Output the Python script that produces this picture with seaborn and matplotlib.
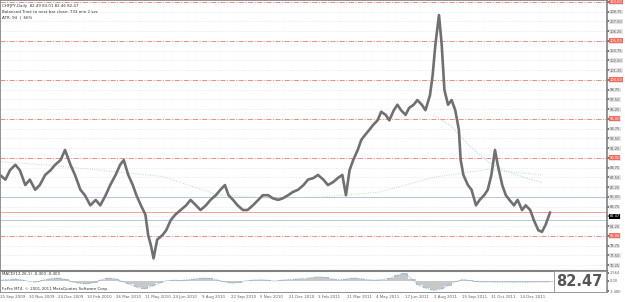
import numpy as np
import pandas as pd
import matplotlib
matplotlib.use("Agg")
import matplotlib.pyplot as plt
import seaborn as sns

sns.set_theme(style="white")
plt.rcParams['font.family'] = ['DejaVu Sans']

# ---------------- data ----------------
header_lines = ["CHFJPY,Daily  82.49 83.01 82.46 82.47",
                "Balanced Time to next bar close: 733 min 2 sec",
                "ATR: 94  |  66%"]
date_labels = ["25 Sep 2009", "10 Nov 2009", "24 Dec 2009", "10 Feb 2010", "26 Mar 2010",
               "11 May 2010", "24 Jun 2010", "9 Aug 2010", "22 Sep 2010", "5 Nov 2010",
               "21 Dec 2010", "3 Feb 2011", "21 Mar 2011", "4 May 2011", "17 Jun 2011",
               "2 Aug 2011", "15 Sep 2011", "31 Oct 2011", "14 Dec 2011"]
label_bars = [0, 32, 64, 96, 128, 160, 192, 224, 256, 288, 320, 352, 384, 416, 448,
              480, 512, 544, 576]

price_bars = [0, 6, 11, 17, 22, 28, 33, 39, 44, 50, 56, 61, 67, 72, 78, 83, 89, 94, 100, 106,
              111, 117, 122, 128, 133, 137, 142, 147, 151, 156, 161, 164, 167, 170, 174, 180,
              184, 189, 194, 200, 206, 211, 217, 222, 228, 233, 239, 244, 249, 253, 258, 263,
              269, 274, 280, 286, 291, 297, 302, 308, 313, 319, 324, 330, 336, 341, 347, 352,
              358, 363, 369, 374, 379, 383, 387, 391, 396, 400, 404, 409, 413, 418, 422, 427,
              431, 436, 440, 444, 449, 453, 458, 462, 467, 471, 476, 479, 482, 486, 489, 492,
              496, 500, 504, 508, 510, 513, 518, 522, 527, 531, 536, 540, 544, 548, 551, 556,
              560, 564, 569, 573, 578, 582, 587, 591, 596, 600, 604, 609]
price_close = [87.8, 87.2, 88.4, 89.1, 88.4, 86.5, 87.2, 85.9, 86.5, 87.8, 88.4, 89.1, 89.7,
               91.0, 89.1, 87.8, 85.9, 85.2, 83.9, 84.6, 83.9, 85.2, 86.5, 87.8, 89.1, 89.7,
               87.8, 86.5, 85.2, 83.9, 82.7, 80.1, 78.8, 77.1, 79.5, 80.1, 80.7, 82.0, 82.7,
               83.3, 83.9, 84.6, 83.9, 83.3, 83.9, 84.6, 85.2, 85.9, 86.5, 85.2, 84.6, 83.9,
               83.3, 83.3, 83.9, 84.6, 85.2, 85.2, 84.8, 84.6, 84.8, 85.2, 85.6, 85.9, 86.5,
               87.2, 87.4, 87.8, 87.2, 86.5, 86.9, 87.4, 87.8, 85.2, 88.4, 89.7, 91.0, 92.3,
               92.9, 93.6, 94.2, 94.8, 95.9, 95.5, 94.8, 96.1, 96.8, 96.1, 95.5, 96.4, 96.8,
               97.4, 96.8, 96.1, 98.0, 100.6, 104.5, 108.3, 104.5, 98.7, 96.8, 97.4, 96.1,
               93.6, 89.7, 87.8, 86.5, 85.9, 83.9, 84.6, 85.2, 85.9, 87.8, 91.0, 89.1, 86.5,
               85.2, 84.6, 83.9, 84.6, 83.3, 83.9, 83.3, 82.0, 80.7, 80.5, 81.4, 83.0]

ma_slow_bars = [0, 60, 120, 180, 240, 300, 360, 420, 480, 540, 600]
ma_slow_vals = [89.5, 89.0, 88.3, 87.6, 85.3, 84.8, 85.0, 85.6, 87.5, 88.5, 87.8]
ma_fast_bars = [480, 500, 520, 540, 560, 580, 600]
ma_fast_vals = [95.5, 94.0, 91.5, 89.5, 88.3, 87.5, 86.8]

red_levels = [110, 105, 100, 95, 90, 80]
pink_level = 83.0
blue_levels = [85.0, 82.0]

macd_bars = [0, 8, 16, 24, 32, 40, 48, 56, 64, 72, 80, 88, 96, 104, 112, 120, 128, 136, 144,
             152, 160, 168, 176, 184, 192, 200, 208, 216, 224, 232, 240, 248, 256, 264, 272,
             280, 288, 296, 304, 312, 320, 328, 336, 344, 352, 360, 368, 376, 384, 392, 400,
             408, 416, 424, 432, 440, 448, 456, 464, 472, 480, 488, 496, 504, 512, 520, 528,
             536, 544, 552, 560, 568, 576, 584, 592, 600, 608]
macd_vals = [0.2, 0.4, 0.6, 0.3, -0.2, -0.5, 0.2, 0.7, 0.9, 0.5, -0.4, -0.9, -1.0, -0.6,
             0.3, 0.9, 0.6, -0.3, -1.2, -2.2, -2.6, -1.8, -0.8, 0.0, 0.2, 0.1, 0.3, 0.6, 0.9,
             0.8, 0.3, -0.3, -0.8, -0.6, 0.0, 0.2, 0.3, 0.2, -0.1, 0.2, 0.4, 0.6, 0.7, 1.0,
             1.3, 1.1, 0.6, 0.3, 0.6, 0.9, 0.7, 0.3, 0.2, 0.4, 0.8, 1.8, 2.5, 0.5, -1.5,
             -2.5, -3.2, -2.8, -1.6, -0.3, 0.4, 0.1, -0.3, -0.4, -0.4, -0.5, -0.4, -0.5,
             -0.4, -0.5, -0.4, -0.4, -0.4]

# ---------------- figure ----------------
W, H = 625, 302
fig = plt.figure(figsize=(W / 100, H / 100), dpi=100)
fig.patch.set_facecolor("white")

ax = fig.add_axes([0, (H - 270) / H, 607 / W, 270 / H])
ax2 = fig.add_axes([0, (H - 292) / H, 607 / W, 21 / H])

xmax = 672
tick_fs = 2.6
grey_txt = "#606060"

yticks = np.arange(76.25, 110.3, 1.25)
for yv in yticks:
    ax.axhline(yv, color="#d8d8d8", lw=0.5, ls=(0, (1, 2)), zorder=0)
for yv in red_levels:
    ax.axhline(yv, color="#f07a6a", lw=0.6, ls=(0, (6, 2, 1, 2)), zorder=1)
ax.axhline(pink_level, color="#f4a0a0", lw=0.7, zorder=1)
for yv in blue_levels:
    ax.axhline(yv, color="#a9bfe0", lw=0.6, zorder=1)

df_ma1 = pd.DataFrame({"bar": ma_slow_bars, "v": ma_slow_vals})
df_ma2 = pd.DataFrame({"bar": ma_fast_bars, "v": ma_fast_vals})
sns.lineplot(data=df_ma1, x="bar", y="v", ax=ax, color="#b8e0b8", lw=0.7, linestyle=(0, (1, 1.5)))
sns.lineplot(data=df_ma2, x="bar", y="v", ax=ax, color="#9fd0e6", lw=0.7, linestyle=(0, (1, 1.5)))

df = pd.DataFrame({"bar": price_bars, "close": price_close})
sns.lineplot(data=df, x="bar", y="close", ax=ax, color="#707070", lw=1.9)

ax.set_xlim(0, xmax)
ax.set_ylim(75.61, 110.23)
ax.set_xlabel("")
ax.set_ylabel("")
ax.set_xticks([])
ax.yaxis.tick_right()
ax.set_yticks(list(yticks))
ax.set_yticklabels([f"{v:.2f}" for v in yticks])
ax.tick_params(axis="y", labelsize=tick_fs, length=1.2, pad=0.8, colors=grey_txt)
for lab in ax.get_yticklabels():
    lab.set_bbox(dict(facecolor="#e4e4e4", edgecolor="none", pad=0.3))
for s in ax.spines.values():
    s.set_color("#808080")
    s.set_linewidth(0.6)
ax.spines["right"].set_linewidth(1.2)

for yv in red_levels:
    ax.text(1.004, yv, f"{yv:.2f}", transform=ax.get_yaxis_transform(), fontsize=tick_fs,
            color="white", va="center", ha="left",
            bbox=dict(facecolor="#f26b5b", edgecolor="none", pad=0.3))
ax.text(1.004, 82.47, "82.47", transform=ax.get_yaxis_transform(), fontsize=tick_fs,
        color="white", va="center", ha="left", bbox=dict(facecolor="black", edgecolor="none", pad=0.3))

for i, t in enumerate(header_lines):
    ax.text(0.004, 0.985 - i * 0.021, t, transform=ax.transAxes, fontsize=2.9, color="#333333",
            va="top", ha="left")

dfm = pd.DataFrame({"bar": macd_bars, "m": macd_vals})
ax2.bar(dfm["bar"], dfm["m"], width=8, color="#c8c8c8", edgecolor="none", align="center")
sns.lineplot(data=dfm, x="bar", y="m", ax=ax2, color="#6fa8dc", lw=0.6, linestyle=(0, (1, 1)))
ax2.set_xlim(0, xmax)
ax2.set_ylim(-3.7, 3.2)
ax2.set_xlabel("")
ax2.set_ylabel("")
ax2.yaxis.tick_right()
ax2.set_yticks([2.564, 0.0, -3.480])
ax2.set_yticklabels(["2.564", "0.00", "-3.480"])
ax2.set_xticks(label_bars)
ax2.set_xticklabels(date_labels, ha="left")
ax2.tick_params(axis="x", labelsize=tick_fs + 0.3, length=1.5, pad=1, colors=grey_txt)
ax2.tick_params(axis="y", labelsize=tick_fs, length=1.2, pad=0.8, colors=grey_txt)
for s in ax2.spines.values():
    s.set_color("#808080")
    s.set_linewidth(0.6)
ax2.spines["top"].set_linewidth(1.5)
ax2.text(0.004, 0.95, "MACD(12,26,1) -0.400 -0.400", transform=ax2.transAxes, fontsize=2.9,
         color="#333333", va="top", ha="left")
ax2.text(0.004, 0.05, "FxPro MT4, \u00a9 2001-2011 MetaQuotes Software Corp.", transform=ax2.transAxes,
         fontsize=2.9, color="#333333", va="bottom", ha="left")
ax2.text(0.993, 0.5, "82.47", transform=ax2.transAxes, fontsize=10.5, fontweight="bold",
         color="#555555", va="center", ha="right",
         bbox=dict(facecolor="white", edgecolor="#909090", pad=2, lw=0.6))

fig.savefig("out.png", dpi=100, facecolor="white")
